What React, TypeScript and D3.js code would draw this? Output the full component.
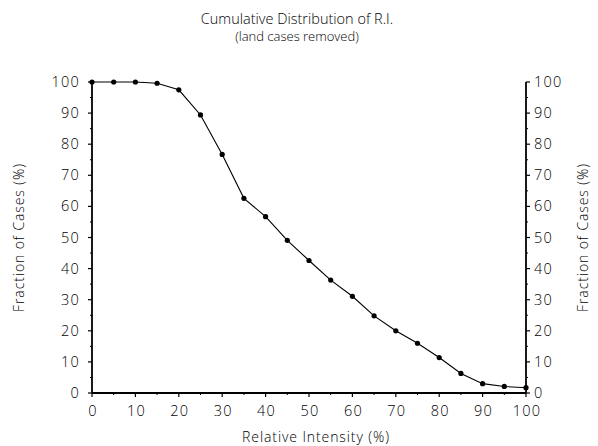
import React from "react";
import * as d3 from "d3";

const intensity = [0, 5, 10, 15, 20, 25, 30, 35, 40, 45, 50, 55, 60, 65, 70, 75, 80, 85, 90, 95, 100];
const fraction = [100, 100, 100, 99.6, 97.5, 89.4, 76.7, 62.6, 56.7, 49.1, 42.6, 36.3, 31.1, 24.8, 20.0, 16.0, 11.4, 6.3, 3.0, 2.1, 1.7];
const majorTicks = [0, 10, 20, 30, 40, 50, 60, 70, 80, 90, 100];
const minorTicks = [5, 15, 25, 35, 45, 55, 65, 75, 85, 95];

const W = 598, H = 446;
const L = 92, R = 526, T = 82, B = 393;
const FONT = "'Open Sans', 'DejaVu Sans', sans-serif";

export default function App() {
  const x = d3.scaleLinear().domain([0, 100]).range([L, R]);
  const y = d3.scaleLinear().domain([0, 100]).range([B, T]);
  const line = d3.line<number>().x((_, i) => x(intensity[i])).y((d) => y(d));
  const txt = { fontFamily: FONT, fontWeight: 300, fill: "#000" } as const;
  const tick = { ...txt, fontSize: 14.5, letterSpacing: 1.2 } as const;
  const lab = { ...txt, fontSize: 14, letterSpacing: 0.9 } as const;
  return (
    <svg width={W} height={H} style={{ position: "absolute", left: 0, top: 0, background: "#fff" }}>
      <text x={297} y={24} textAnchor="middle" fontSize={14.5} {...txt}>Cumulative Distribution of R.I.</text>
      <text x={297} y={41} textAnchor="middle" fontSize={13} {...txt}>(land cases removed)</text>
      <line x1={L} y1={T} x2={L} y2={B} stroke="#000" strokeWidth={1.8} />
      <line x1={R} y1={T} x2={R} y2={B} stroke="#000" strokeWidth={1.8} />
      <line x1={L} y1={B} x2={R} y2={B} stroke="#000" strokeWidth={1.8} />
      {majorTicks.map((t) => (
        <g key={"m" + t}>
          <line x1={L - 4} x2={L} y1={y(t)} y2={y(t)} stroke="#000" strokeWidth={1.2} />
          <line x1={R} x2={R + 4} y1={y(t)} y2={y(t)} stroke="#000" strokeWidth={1.2} />
          <line x1={x(t)} x2={x(t)} y1={B} y2={B + 4} stroke="#000" strokeWidth={1.2} />
          <text x={L - 12} y={y(t) + 5} textAnchor="end" {...tick}>{t}</text>
          <text x={R + 8} y={y(t) + 5} textAnchor="start" {...tick}>{t}</text>
          <text x={x(t) + 1} y={B + 23} textAnchor="middle" {...tick}>{t}</text>
        </g>
      ))}
      {minorTicks.map((t) => (
        <g key={"n" + t}>
          <line x1={L - 2} x2={L} y1={y(t)} y2={y(t)} stroke="#000" strokeWidth={1} />
          <line x1={R} x2={R + 2} y1={y(t)} y2={y(t)} stroke="#000" strokeWidth={1} />
          <line x1={x(t)} x2={x(t)} y1={B} y2={B + 2} stroke="#000" strokeWidth={1} />
        </g>
      ))}
      <text x={316} y={442} textAnchor="middle" {...lab}>Relative Intensity (%)</text>
      <text transform={`translate(24,${(T + B) / 2}) rotate(-90)`} textAnchor="middle" {...lab}>Fraction of Cases (%)</text>
      <text transform={`translate(588,${(T + B) / 2}) rotate(-90)`} textAnchor="middle" {...lab}>Fraction of Cases (%)</text>
      <path d={line(fraction) || ""} fill="none" stroke="#000" strokeWidth={1.1} />
      {fraction.map((v, i) => (
        <circle key={i} cx={x(intensity[i])} cy={y(v)} r={2.6} fill="#000" />
      ))}
    </svg>
  );
}
